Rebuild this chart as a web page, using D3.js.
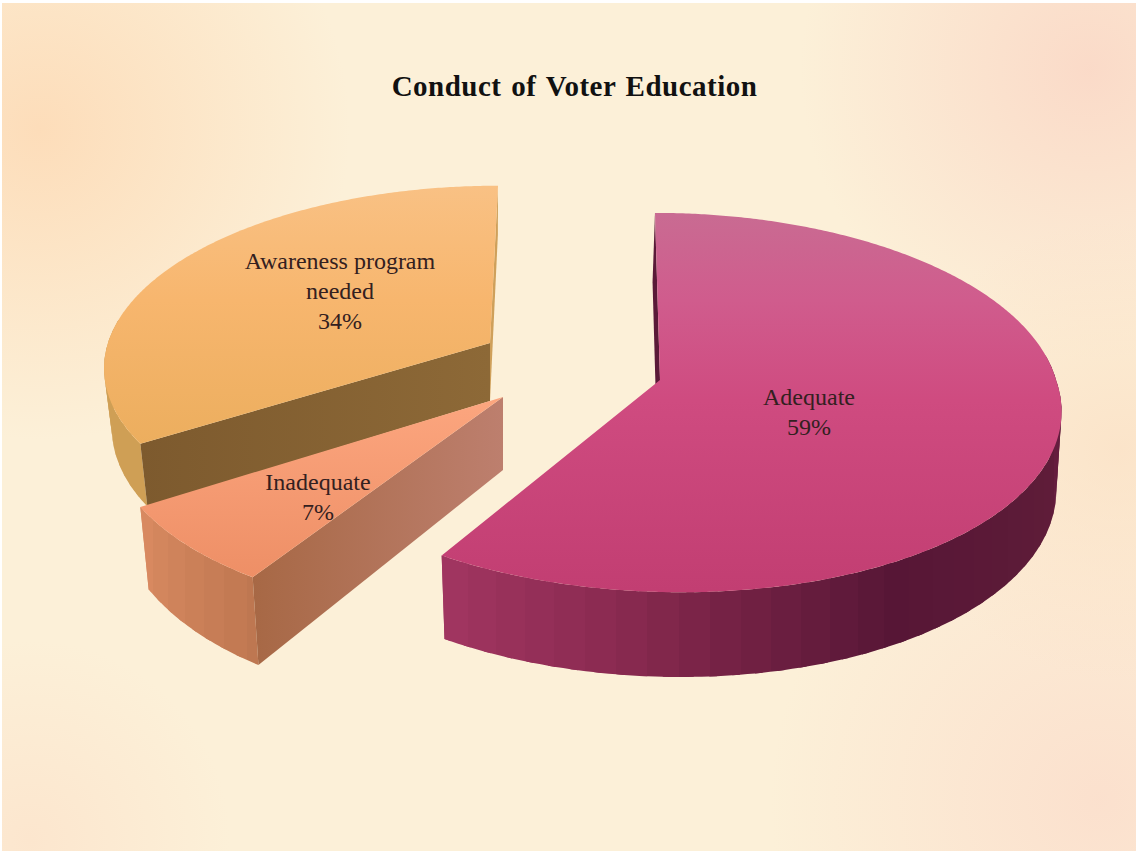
<!DOCTYPE html>
<html><head><meta charset="utf-8">
<script src="https://cdn.jsdelivr.net/npm/d3@7"></script>
<style>html,body{margin:0;padding:0;background:#fff}svg{display:block}</style>
</head><body><svg id="c" width="1138" height="854"></svg>
<script>
const titleText = "Conduct of Voter Education";
const categories = ["Adequate", "Inadequate", "Awareness program needed"];
const values = [59, 7, 34];
const labelLines = [["Adequate"], ["Inadequate"], ["Awareness program", "needed"]];

// Layout of each exploded wedge (drawing parameters, not data)
const layout = [
 {ax:660,ay:380,R:396,Ry:187,k:.119,shear:.03,shearFront:.1,depth:77,g:.1,bs:.987,lx:809,ly:405,
  top:[[213,"#c96b92"],[300,"#d05c8d"],[400,"#cf4b80"],[590,"#c23e72"]],
  rim:[[212,"#a03560"],[190,"#8a2a50"],[175,"#732144"],[153,"#571636"],[120,"#5e1c38"],[90,"#651d3e"]],
  face:["#5a1a38","#5a1a38"]},
 {ax:503,ay:397,R:390,Ry:192,k:.119,shear:-.1,shearFront:-.1,depth:73,g:.24,bs:.977,lx:318,ly:490,
  top:[[397,"#fca67f"],[576,"#ee8f66"]],
  rim:[[238,"#d88960"],[212,"#bd7650"]],
  face:["#a76845","#bd7f6e"]},
 {ax:490,ay:343,R:382,Ry:176,k:.119,shear:-.051,shearFront:-.051,depth:58,g:.15,bs:.98,lx:340,ly:269,
  top:[[186,"#f9c184"],[300,"#f7b66e"],[445,"#ecae5e"]],
  rim:[[360,"#cf9f55"],[238,"#cf9f55"]],
  face:["#7d5a2e","#8d6937"]}
];

const svg = d3.select("#c"), defs = svg.append("defs");
const pie = d3.pie().sort(null).value(d => d);
const arcs = pie(values);

// Background
const bgs = [
 {id:"b1",cx:40,cy:130,r:310,c:"#fdd8b2",o:.8},
 {id:"b2",cx:1090,cy:70,r:290,c:"#fad3c3",o:.75},
 {id:"b3",cx:1100,cy:800,r:330,c:"#fbd8c8",o:.65},
 {id:"b4",cx:30,cy:840,r:200,c:"#fcdcc4",o:.5},
 {id:"b5",cx:1120,cy:450,r:230,c:"#fbdcc0",o:.6}
];
const page = svg.append("g");
defs.append("clipPath").attr("id","pg").append("rect").attr("x",2).attr("y",3).attr("width",1134).attr("height",848);
page.attr("clip-path","url(#pg)");
page.append("rect").attr("x",2).attr("y",3).attr("width",1134).attr("height",848).attr("fill","#fcf0d8");
bgs.forEach(b=>{
  const g=defs.append("radialGradient").attr("id",b.id);
  g.append("stop").attr("offset","0").attr("stop-color",b.c).attr("stop-opacity",b.o);
  g.append("stop").attr("offset","1").attr("stop-color",b.c).attr("stop-opacity",0);
  page.append("circle").attr("cx",b.cx).attr("cy",b.cy).attr("r",b.r).attr("fill",`url(#${b.id})`);
});

svg.append("text").attr("x",574.5).attr("y",96).attr("text-anchor","middle")
  .attr("font-family","'Liberation Serif',serif").attr("font-weight","bold").attr("font-size",29)
  .attr("letter-spacing",.5).attr("word-spacing",2)
  .attr("fill","#111").text(titleText);

function topPt(L,a){
  const u=Math.sin(a), v=-Math.cos(a), s=1/(1-L.k*v);
  const dy=L.Ry*v*s;
  return [L.ax+L.R*u*s+(v>0?L.shearFront:L.shear)*dy, L.ay+dy, v];
}
function botPt(L,p){
  return [L.ax+(p[0]-L.ax)*L.bs, p[1]+L.depth*(1+L.g*p[2])];
}
const line=d3.line();
const order=[2,1,0];
order.forEach(i=>{
  const d=arcs[i], L=layout[i], g=svg.append("g");
  const a0=d.startAngle,a1=d.endAngle;
  const apex=[L.ax,L.ay,0], apexB=botPt(L,apex);
  const s0=topPt(L,a0), s1=topPt(L,a1);

  // top gradient
  const y0=L.top[0][0], y1=L.top[L.top.length-1][0];
  const tg=defs.append("linearGradient").attr("id","t"+i).attr("gradientUnits","userSpaceOnUse")
    .attr("x1",0).attr("x2",0).attr("y1",y0).attr("y2",y1);
  L.top.forEach(t=>tg.append("stop").attr("offset",(t[0]-y0)/(y1-y0)).attr("stop-color",t[1]));

  // radial face pointing to the back of the pie
  if(i===0){
    const b=botPt(L,s0);
    g.append("path").attr("d",line([apex,s0,[b[0]-2.5,b[1]],[apexB[0]-2.5,apexB[1]]])+"Z").attr("fill","#5a1a38");
  }
  if(i===2) g.append("path").attr("d",line([apex,s1,botPt(L,s1),apexB])+"Z").attr("fill","#cfa05a");

  // rim: shaded by soft vertical bands along the arc, drawn in overlapping chunks
  const steps=Math.round((a1-a0)/(Math.PI/180));
  const rimColor=d3.scaleLinear().domain(L.rim.map(r=>r[0])).range(L.rim.map(r=>r[1]));
  const samples=d3.range(steps+1).map(j=>a0+(a1-a0)*j/steps)
    .filter(a=>topPt(L,a)[2]>=-0.14);
  const tops=samples.map(a=>topPt(L,a));
  const xs=tops.map(p=>p[0]), xMin=d3.min(xs), xMax=d3.max(xs);
  const rg=defs.append("linearGradient").attr("id","r"+i).attr("gradientUnits","userSpaceOnUse")
    .attr("x1",xMin).attr("x2",xMax).attr("y1",0).attr("y2",0);
  const band=4, off=x=>(x-xMin)/(xMax-xMin);
  const pairs=samples.map((a,j)=>({a,x:xs[j]})).sort((p,q)=>p.x-q.x);
  pairs.forEach((p,j)=>{
    if(j%band) return;
    const next=pairs[Math.min(j+band,pairs.length-1)];
    const col=rimColor(p.a*180/Math.PI);
    rg.append("stop").attr("offset",off(p.x)).attr("stop-color",col);
    rg.append("stop").attr("offset",off(next.x)).attr("stop-color",col);
  });
  for(let j=0;j<tops.length-1;j+=3){
    const part=tops.slice(j,j+5);
    const poly=part.concat(part.map(p=>botPt(L,p)).reverse()).map(p=>[p[0],p[1]]);
    g.append("path").attr("d",line(poly)+"Z").attr("fill",`url(#r${i})`);
  }

  // radial face pointing to the viewer
  if(i===1||i===2){
    const fg=defs.append("linearGradient").attr("id","f"+i).attr("gradientUnits","userSpaceOnUse")
      .attr("x1",s0[0]).attr("x2",L.ax).attr("y1",0).attr("y2",0);
    fg.append("stop").attr("offset",0).attr("stop-color",L.face[0]);
    fg.append("stop").attr("offset",1).attr("stop-color",L.face[1]);
    g.append("path").attr("d",line([apex,s0,botPt(L,s0),apexB])+"Z").attr("fill",`url(#f${i})`);
  }

  // top surface
  const pts=[apex].concat(d3.range(steps*2+1).map(j=>topPt(L,a0+(a1-a0)*j/(steps*2))));
  g.append("path").attr("d",line(pts.map(p=>[p[0],p[1]]))+"Z").attr("fill",`url(#t${i})`);
});

// Labels
const pct=d3.format(".0f");
arcs.forEach((d,i)=>{
  const L=layout[i];
  const lines=labelLines[i].concat([pct(d.value)+"%"]);
  const t=svg.append("text").attr("text-anchor","middle")
    .attr("font-family","'Liberation Serif',serif").attr("font-size",24).attr("fill","#33201f");
  lines.forEach((s,j)=>t.append("tspan").attr("x",L.lx).attr("y",L.ly+j*30).text(s));
});
</script></body></html>
